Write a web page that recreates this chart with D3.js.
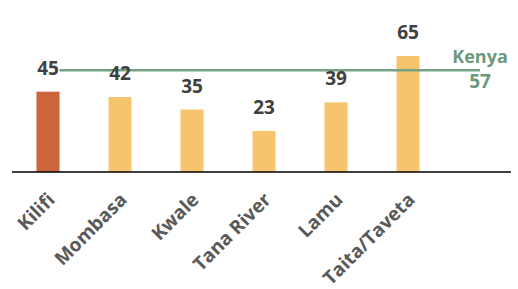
<!DOCTYPE html>
<html>
<head>
<meta charset="utf-8">
<script src="https://cdn.jsdelivr.net/npm/d3@7"></script>
<style>
  body { margin: 0; background: #fff; }
  text { font-family: "Open Sans", Lato, sans-serif; font-weight: bold; }
</style>
</head>
<body>
<svg id="chart" width="518" height="289"></svg>
<script>
"use strict";

// counties and their values
const counties = ["Kilifi", "Mombasa", "Kwale", "Tana River", "Lamu", "Taita/Taveta"];
const values = [45, 42, 35, 23, 39, 65];
const highlight = "Kilifi";

// national reference
const refLabel = "Kenya";
const refValue = 57;

(function()
{
	let svg = d3.select("svg#chart");

	//slots: the counties plus one empty slot for the Kenya label
	let slots = counties.concat(["__ref"]);

	let x = d3.scaleBand()
		.domain(slots)
		.range([12, 516])
		.paddingInner(0.68)
		.paddingOuter(0.34);

	let y = d3.scaleLinear()
		.domain([0, 65])
		.range([172, 56]);

	//bars
	svg.append("g")
		.selectAll("rect")
		.data(counties)
		.join("rect")
		.attr("x", function(d) { return x(d); })
		.attr("y", function(d, i) { return y(values[i]); })
		.attr("width", x.bandwidth())
		.attr("height", function(d, i) { return y(0) - y(values[i]); })
		.attr("fill", function(d) { return d === highlight ? "#cc6539" : "#f6c46c"; });

	//kenya line
	svg.append("line")
		.attr("x1", x(counties[0]) + x.bandwidth())
		.attr("x2", x("__ref") + x.bandwidth() / 2)
		.attr("y1", y(refValue))
		.attr("y2", y(refValue))
		.attr("stroke", "#76a187")
		.attr("stroke-width", 2.5);

	//value labels
	svg.append("g")
		.selectAll("text")
		.data(counties)
		.join("text")
		.attr("x", function(d) { return x(d) + x.bandwidth() / 2; })
		.attr("y", function(d, i) { return y(values[i]) - 17; })
		.attr("text-anchor", "middle")
		.attr("font-size", 19)
		.attr("fill", "#404040")
		.text(function(d, i) { return values[i]; });

	//kenya label
	let rx = x("__ref") + x.bandwidth() / 2;
	svg.append("text")
		.attr("x", rx)
		.attr("y", 63)
		.attr("text-anchor", "middle")
		.attr("font-size", 18)
		.attr("fill", "#6b9a7b")
		.text(refLabel);
	svg.append("text")
		.attr("x", rx)
		.attr("y", 88)
		.attr("text-anchor", "middle")
		.attr("font-size", 19)
		.attr("fill", "#6b9a7b")
		.text(refValue);

	//axis
	let axis = svg.append("g")
		.attr("transform", "translate(0," + y(0) + ")")
		.call(d3.axisBottom(x).tickSize(0).tickFormat(function(d) { return d === "__ref" ? "" : d; }));
	axis.select(".domain")
		.attr("d", "M12,0H511")
		.attr("stroke", "#000")
		.attr("stroke-width", 1.5);
	axis.selectAll(".tick text")
		.attr("font-size", 19)
		.attr("font-family", "'Open Sans', sans-serif")
		.attr("fill", "#595959")
		.attr("text-anchor", "end")
		.attr("dy", null)
		.attr("y", 0)
		.attr("transform", "translate(8,29) rotate(-45)");
})();
</script>
</body>
</html>
